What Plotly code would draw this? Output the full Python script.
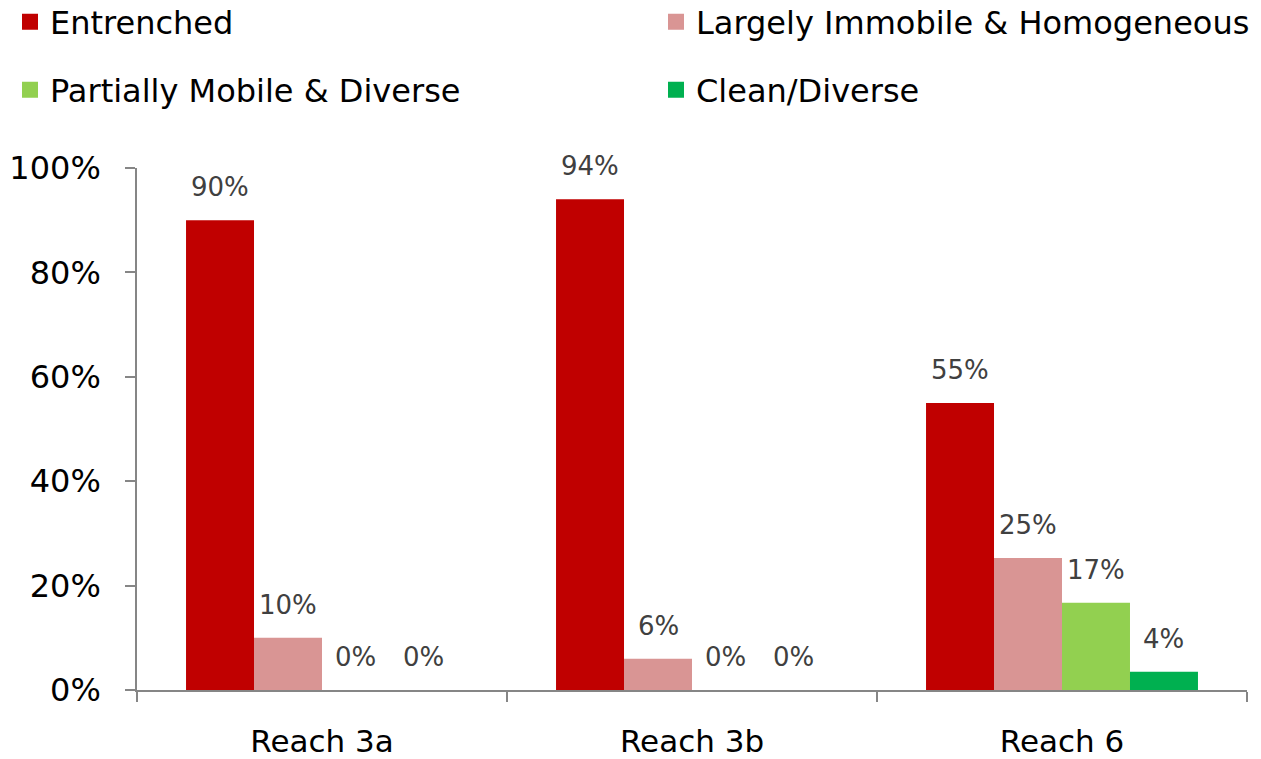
import plotly.graph_objects as go

categories = ["Reach 3a", "Reach 3b", "Reach 6"]
series_names = ["Entrenched", "Largely Immobile & Homogeneous",
                "Partially Mobile & Diverse", "Clean/Diverse"]
entrenched = [0.90, 0.94, 0.55]
largely_immobile = [0.10, 0.06, 0.253]
partially_mobile = [0.0, 0.0, 0.167]
clean_diverse = [0.0, 0.0, 0.035]
series_values = [entrenched, largely_immobile, partially_mobile, clean_diverse]
colors = ["#C00000", "#D99594", "#92D050", "#00B050"]
y_ticks = [0, 0.2, 0.4, 0.6, 0.8, 1.0]

FONT = "DejaVu Sans"
BARGAP = 0.265
W, H = 1261, 759

fig = go.Figure()
for name, vals, col in zip(series_names, series_values, colors):
    fig.add_trace(go.Bar(x=categories, y=vals, name=name, marker_color=col,
                         marker_line_width=0, showlegend=False))

# legend entries (square markers), one legend box per entry in a 2x2 grid
legend_ids = ["legend", "legend2", "legend3", "legend4"]
for lid, name, col in zip(legend_ids, series_names, colors):
    fig.add_trace(go.Scatter(x=[None], y=[None], mode="markers", name=name,
                             marker=dict(symbol="square", size=20, color=col),
                             legend=lid))

# data labels
n = len(series_values)
group_w = 1 - BARGAP
bar_w = group_w / n
annotations = []
for j, vals in enumerate(series_values):
    for i, v in enumerate(vals):
        xpos = i - group_w / 2 + bar_w * (j + 0.5)
        annotations.append(dict(x=xpos, y=v, xref="x", yref="y",
                                text=f"{round(v * 100 + 1e-9):.0f}%",
                                showarrow=False, yshift=33, yanchor="middle",
                                font=dict(family=FONT, size=26, color="#404040")))

legend_common = dict(orientation="h", xref="container", yref="container",
                     xanchor="left", yanchor="middle",
                     font=dict(family=FONT, size=32, color="#000000"),
                     itemsizing="trace", bgcolor="rgba(0,0,0,0)")
legend_pos = [(10, 22), (656, 22), (10, 90), (656, 90)]
legend_layout = {}
for lid, (px, py) in zip(legend_ids, legend_pos):
    legend_layout[lid] = dict(x=px / W, y=1 - py / H, **legend_common)

fig.update_layout(
    width=W, height=H,
    margin=dict(l=137, r=14, t=168, b=69, autoexpand=False),
    plot_bgcolor="white", paper_bgcolor="white",
    barmode="group", bargap=BARGAP, bargroupgap=0,
    annotations=annotations,
    font=dict(family=FONT, color="#000000"),
    **legend_layout,
)
fig.update_yaxes(range=[0, 1], tickvals=y_ticks, tickformat=".0%",
                 showgrid=False, zeroline=False, showline=True,
                 linecolor="#868686", linewidth=1.5, ticks="outside",
                 ticklen=10, tickcolor="#868686", tickwidth=1.5,
                 ticklabelstandoff=18, automargin=False,
                 tickfont=dict(family=FONT, size=32, color="#000000"))
fig.update_xaxes(showgrid=False, showline=True, linecolor="#868686",
                 linewidth=1.5, ticks="outside", tickson="boundaries",
                 ticklen=10, tickcolor="#868686", tickwidth=1.5,
                 ticklabelstandoff=23, automargin=False,
                 tickfont=dict(family=FONT, size=31, color="#000000"))

fig.write_html("out.html")
